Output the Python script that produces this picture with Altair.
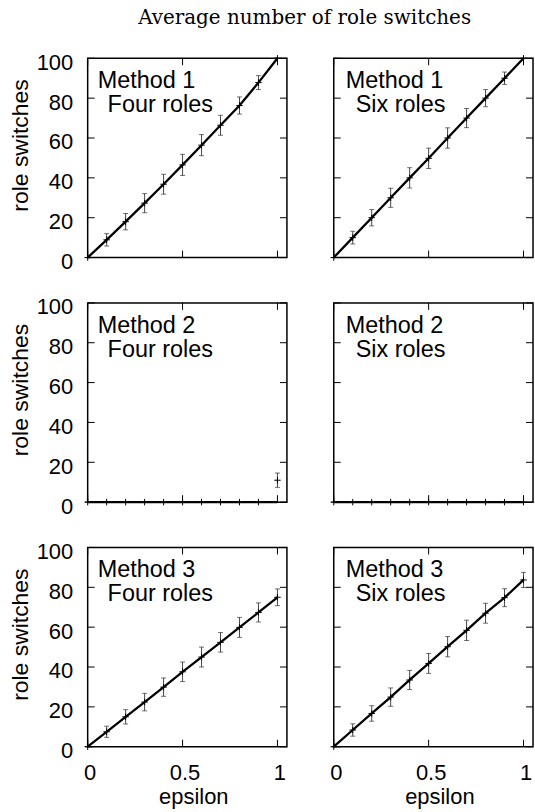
import altair as alt
import pandas as pd

# epsilon grid shared by every panel
eps = [0.0, 0.1, 0.2, 0.3, 0.4, 0.5, 0.6, 0.7, 0.8, 0.9, 1.0]

# Method 1
m1_four_mean = [0, 8.9, 18.0, 27.3, 36.8, 46.5, 56.4, 66.4, 76.3, 87.8, 100]
m1_four_err = [0, 3.1, 4.1, 4.8, 5.0, 5.3, 5.3, 5.0, 4.3, 3.5, 0]
m1_four_line = [0, 8.9, 18.0, 27.3, 36.8, 46.5, 56.4, 66.4, 76.3, 87.8, 100]

m1_six_mean = [0, 10.0, 20.0, 30.0, 40.0, 49.8, 60.0, 70.0, 80.0, 90.0, 100]
m1_six_err = [0, 3.2, 4.1, 4.8, 5.1, 5.1, 5.1, 4.8, 4.3, 3.1, 0]
m1_six_line = [0, 10.0, 20.0, 30.0, 40.0, 49.8, 60.0, 70.0, 80.0, 90.0, 100]

# Method 2
m2_four_mean = [0, 0, 0, 0, 0, 0, 0, 0, 0, 0, 11.0]
m2_four_err = [0, 0, 0, 0, 0, 0, 0, 0, 0, 0, 3.6]
m2_four_line = [0, 0, 0, 0, 0, 0, 0, 0, 0, 0, 0]

m2_six_mean = [0, 0, 0, 0, 0, 0, 0, 0, 0, 0, 0]
m2_six_err = [0, 0, 0, 0, 0, 0, 0, 0, 0, 0, 0]
m2_six_line = [0, 0, 0, 0, 0, 0, 0, 0, 0, 0, 0]

# Method 3
m3_four_mean = [0, 7.5, 15.0, 22.4, 29.9, 37.6, 45.0, 52.4, 59.9, 67.4, 75.0]
m3_four_err = [0, 2.8, 3.6, 4.4, 4.6, 4.9, 5.0, 4.9, 5.0, 4.8, 4.2]
m3_four_line = [0, 7.5, 15.0, 22.4, 29.9, 37.6, 45.0, 52.4, 59.9, 67.4, 75.0]

m3_six_mean = [0, 8.4, 16.7, 24.9, 33.5, 41.8, 50.2, 58.4, 67.0, 74.8, 83.7]
m3_six_err = [0, 3.1, 3.9, 4.6, 4.8, 5.0, 5.1, 5.1, 5.0, 4.5, 3.8]
m3_six_line = [0, 8.4, 16.7, 24.9, 33.5, 41.8, 50.2, 58.4, 67.0, 74.8, 83.7]

y_ticks = [0, 20, 40, 60, 80, 100]
x_ticks = [0, 0.5, 1.0]

W, H = 200, 200
SANS = "Liberation Sans"
PLUS = "M -1 0 L 1 0 M 0 -1 L 0 1"

xs = alt.Scale(domain=[0, 1.05], nice=False, zero=False)
ys = alt.Scale(domain=[0, 100], nice=False, zero=False)


def panel(mean, err, line, method, roles, left, bottom):
    df = pd.DataFrame({
        "epsilon": eps,
        "mean": mean,
        "lo": [m - e for m, e in zip(mean, err)],
        "hi": [m + e for m, e in zip(mean, err)],
        "err": err,
        "line": line,
    })

    x_axis = alt.Axis(
        values=x_ticks, format="~g", ticks=False, domain=False, grid=False,
        labelFont=SANS, labelFontSize=22, labelPadding=16, labelFlush=False,
        labelOffset=2, labelColor="black",
        title="epsilon", titleFont=SANS, titleFontSize=22, titleFontWeight="normal",
        titleColor="black", titleX=106, titleY=57, titleAlign="center",
        titleBaseline="alphabetic",
    ) if bottom else None

    y_axis = alt.Axis(
        values=y_ticks, ticks=False, domain=False, grid=False,
        labelFont=SANS, labelFontSize=22, labelPadding=15, labelOffset=4,
        labelColor="black",
        title="role switches", titleFont=SANS, titleFontSize=23,
        titleFontWeight="normal", titleColor="black", titleAngle=270,
        titleX=-60, titleY=87, titleAlign="center", titleBaseline="alphabetic",
    ) if left else None

    # every layer carries the same axis definition so the merged axis survives
    def X(field):
        return alt.X(field, type="quantitative", scale=xs, axis=x_axis)

    def Y(field):
        return alt.Y(field, type="quantitative", scale=ys, axis=y_axis)

    base = alt.Chart(df)

    curve = base.mark_line(color="black", strokeWidth=2.3).encode(
        x=X("epsilon"), y=Y("line"))

    bars = base.transform_filter("datum.err > 0").mark_rule(
        color="#333333", strokeWidth=0.9
    ).encode(x=X("epsilon"), y=Y("lo"), y2="hi")

    cap_lo = base.mark_tick(orient="horizontal", size=5, thickness=1, color="#333333").encode(
        x=X("epsilon"), y=Y("lo"))
    cap_hi = base.mark_tick(orient="horizontal", size=5, thickness=1, color="#333333").encode(
        x=X("epsilon"), y=Y("hi"))

    pts = base.mark_point(shape=PLUS, size=42, filled=False, color="black",
                          strokeWidth=1, opacity=1).encode(
        x=X("epsilon"), y=Y("mean"))

    ytk = alt.Chart(pd.DataFrame({"v": y_ticks}))
    xtk = alt.Chart(pd.DataFrame({"v": x_ticks}))
    tick_style = dict(color="black", strokeWidth=1)
    ticks = [
        ytk.mark_rule(**tick_style).encode(y=Y("v"), x=alt.value(0), x2=alt.value(7)),
        ytk.mark_rule(**tick_style).encode(y=Y("v"), x=alt.value(W - 7), x2=alt.value(W)),
        xtk.mark_rule(**tick_style).encode(x=X("v"), y=alt.value(H - 7), y2=alt.value(H)),
        xtk.mark_rule(**tick_style).encode(x=X("v"), y=alt.value(0), y2=alt.value(7)),
    ]

    lab = alt.Chart(pd.DataFrame({"a": [method], "b": [roles]}))
    dx = 10 if left else 12
    t1 = lab.mark_text(align="left", baseline="alphabetic", font=SANS,
                       fontSize=23.5, color="black").encode(
        text="a:N", x=alt.value(dx), y=alt.value(30))
    t2 = lab.mark_text(align="left", baseline="alphabetic", font=SANS,
                       fontSize=23.5, color="black").encode(
        text="b:N", x=alt.value(dx + 10), y=alt.value(54))

    return alt.layer(curve, *ticks, bars, cap_lo, cap_hi, pts, t1, t2).properties(
        width=W, height=H)


panels = [
    panel(m1_four_mean, m1_four_err, m1_four_line, "Method 1", "Four roles", True, False),
    panel(m1_six_mean, m1_six_err, m1_six_line, "Method 1", "Six roles", False, False),
    panel(m2_four_mean, m2_four_err, m2_four_line, "Method 2", "Four roles", True, False),
    panel(m2_six_mean, m2_six_err, m2_six_line, "Method 2", "Six roles", False, False),
    panel(m3_four_mean, m3_four_err, m3_four_line, "Method 3", "Four roles", True, True),
    panel(m3_six_mean, m3_six_err, m3_six_line, "Method 3", "Six roles", False, True),
]

# flush grid: panels are placed by their own size, axes hang outside
chart = alt.concat(*panels, columns=2, spacing={"row": 45.5, "column": 47},
                   bounds="flush").properties(
    title=alt.TitleParams(
        "Average number of role switches", font="DejaVu Serif", fontSize=20,
        fontWeight="normal", color="black", anchor="middle", dx=33, offset=7,
        baseline="alphabetic"),
    padding={"left": 9, "top": 6, "right": 0, "bottom": 0},
    background="white",
).configure_view(stroke="black", strokeWidth=1.5)

chart.save("out.html", embed_options={"renderer": "svg", "actions": False})
